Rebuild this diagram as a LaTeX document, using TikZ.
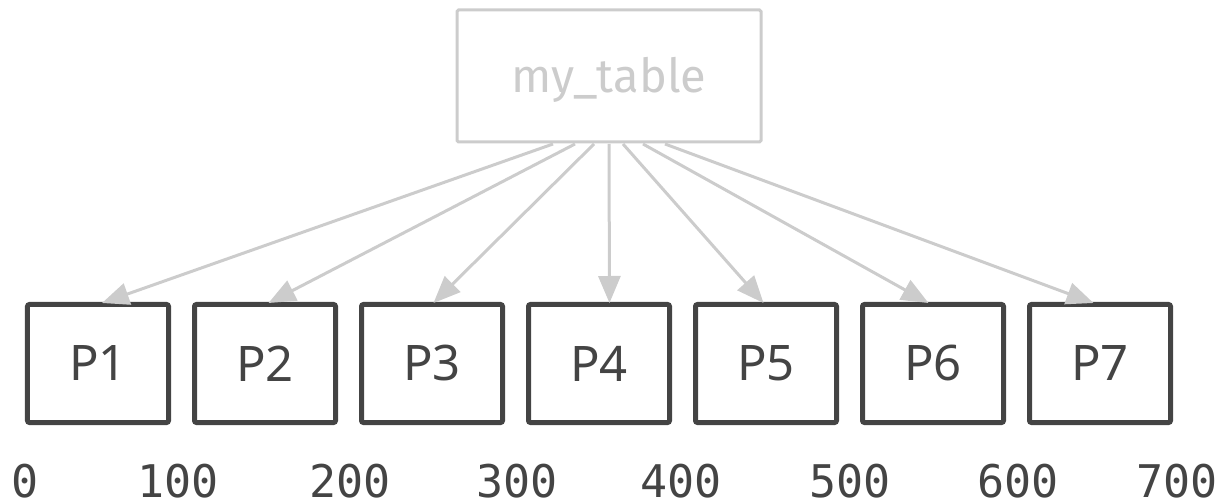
\documentclass[tikz,border=0pt]{standalone}
\usepackage{fontspec}
\setmainfont{Noto Sans}
\newfontfamily\tablefont{Fira Sans}
\newfontfamily\numfont[RawFeature=+zero]{DejaVu Sans Mono}
\usetikzlibrary{arrows.meta}
\definecolor{edgegrey}{HTML}{CCCCCC}
\definecolor{boxgrey}{HTML}{444444}
\begin{document}
\begin{tikzpicture}[x=1bp,y=-1bp,
  tablebox/.style={draw=edgegrey, line width=3bp, rounded corners=1.5bp,
    minimum width=304bp, minimum height=132bp, inner sep=0pt},
  partbox/.style={draw=boxgrey, line width=5bp, rounded corners=2bp,
    minimum width=141bp, minimum height=118bp, inner sep=0pt},
  partlabel/.style={text=boxgrey, font=\fontsize{49bp}{49bp}\selectfont},
  ticklabel/.style={text=boxgrey, font=\numfont\fontsize{45bp}{45bp}\selectfont,
    inner sep=0pt, text depth=0pt},
  link/.style={draw=edgegrey, line width=3bp,
    -{Triangle[length=27bp,width=22bp]}}]
\path[use as bounding box] (0,0) rectangle (1222,504);

% source table
\node[tablebox] (t) at (609,76) {};
\node[text=edgegrey, font=\tablefont\fontsize{47bp}{47bp}\selectfont, anchor=base, inner sep=0pt]
  (tl) at (609,93) {my\_table};

% partitions
\foreach \i in {1,...,7} {
  \node[partbox] (p\i) at ({98+167*(\i-1)},363.5) {};
  \node[partlabel] (pl\i) at (p\i) {P\i};
}

% edges from the table to each partition
\coordinate (s1) at (553,144);
\coordinate (s2) at (575,144);
\coordinate (s3) at (594,144);
\coordinate (s4) at (609,144);
\coordinate (s5) at (623,144);
\coordinate (s6) at (643,144);
\coordinate (s7) at (665,144);
\draw[link] (s1) -- ([xshift=4bp,yshift=-1bp]p1.north);
\draw[link] (s2) -- ([xshift=3.5bp,yshift=-1bp]p2.north);
\draw[link] (s3) -- ([xshift=1.5bp,yshift=-1bp]p3.north);
\draw[link] (s4) -- ([xshift=10.5bp,yshift=-1bp]p4.north);
\draw[link] (s5) -- ([xshift=-2.5bp,yshift=-1bp]p5.north);
\draw[link] (s6) -- ([xshift=-4.5bp,yshift=-1bp]p6.north);
\draw[link] (s7) -- ([xshift=-6.5bp,yshift=-1bp]p7.north);

% offsets
\node[ticklabel, anchor=base west] (n0) at (11,497) {0};
\node[ticklabel, anchor=base] (n1) at (178,497) {100};
\node[ticklabel, anchor=base] (n2) at (350,497) {200};
\node[ticklabel, anchor=base] (n3) at (517,497) {300};
\node[ticklabel, anchor=base] (n4) at (681,497) {400};
\node[ticklabel, anchor=base] (n5) at (850,497) {500};
\node[ticklabel, anchor=base] (n6) at (1018,497) {600};
\node[ticklabel, anchor=base east] (n7) at (1218,497) {700};
\end{tikzpicture}
\end{document}
